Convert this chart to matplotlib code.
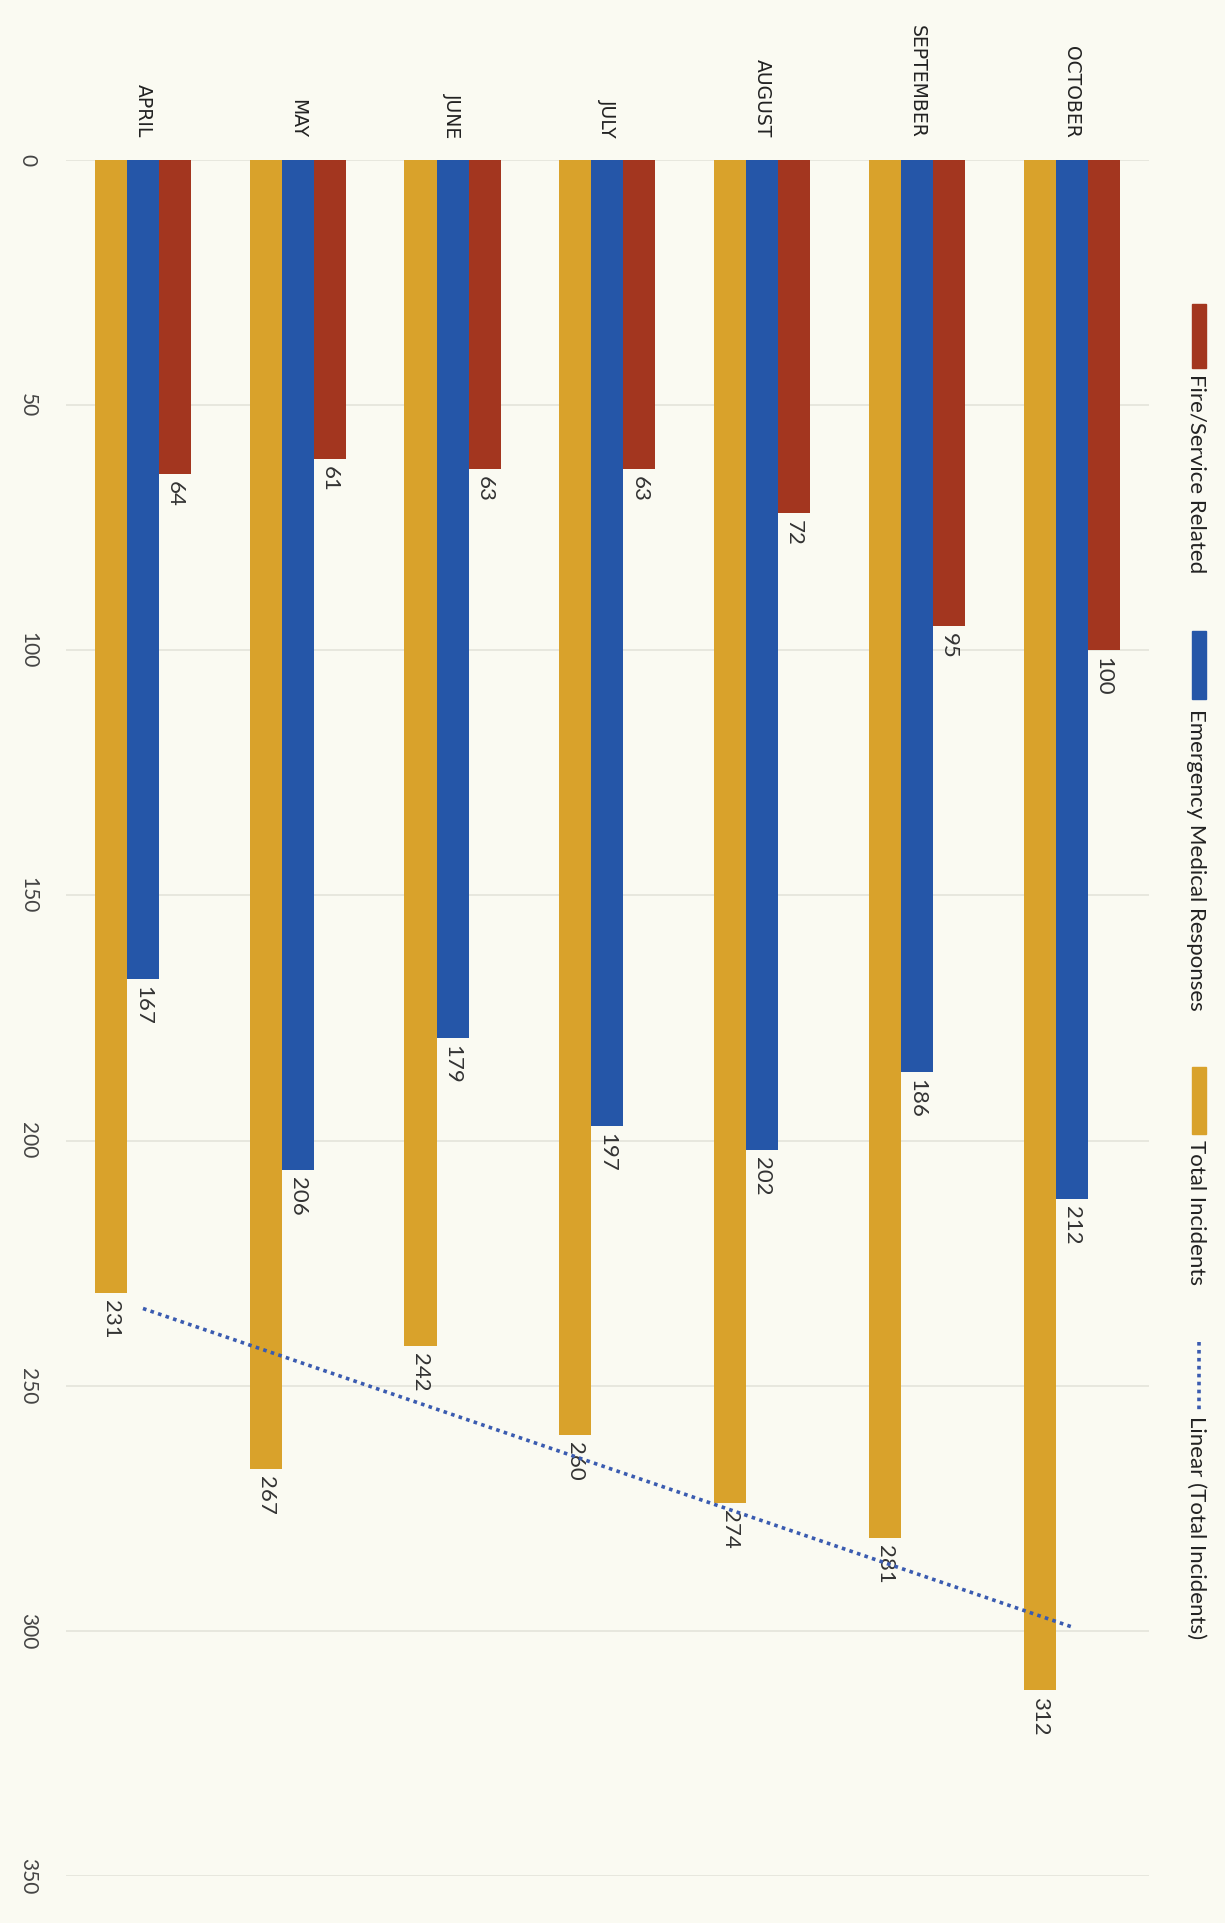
import numpy as np
import matplotlib.pyplot as plt
from matplotlib.patches import Rectangle
from matplotlib.lines import Line2D

months = ['APRIL', 'MAY', 'JUNE', 'JULY', 'AUGUST', 'SEPTEMBER', 'OCTOBER']
fire = [64, 61, 63, 63, 72, 95, 100]
ems = [167, 206, 179, 197, 202, 186, 212]
total = [231, 267, 242, 260, 274, 281, 312]
value_ticks = [0, 50, 100, 150, 200, 250, 300, 350]

legend_names = ['Fire/Service Related', 'Emergency Medical Responses',
                'Total Incidents', 'Linear (Total Incidents)']

RED = '#a3361f'
BLUE = '#2556a8'
GOLD = '#d9a22b'
TREND = '#3a5bb0'
BG = '#fafaf2'

plt.rcParams['font.family'] = ['Lato', 'DejaVu Sans']

W, H = 1225, 1923
fig = plt.figure(figsize=(W / 100, H / 100), dpi=100, facecolor=BG)

# axes placed in pixels of the (rotated) page
left, right = 65.6, 1149.0
top, bottom = 160.0, 1876.0
ax = fig.add_axes([left / W, 1 - bottom / H, (right - left) / W, (bottom - top) / H])
ax.set_facecolor(BG)

x = np.arange(len(months))
w = 0.207

series = [(total, -w, GOLD), (ems, 0, BLUE), (fire, w, RED)]
for vals, off, col in series:
    ax.bar(x + off, vals, w, color=col, zorder=2)
    for xi, v in zip(x + off, vals):
        ax.annotate(str(v), (xi, v), xytext=(0, -5), textcoords='offset points',
                    rotation=-90, ha='center', va='top', fontsize=16,
                    color='#333333')

# linear trend of total incidents
k, c = np.polyfit(x, total, 1)
ax.plot(x, k * x + c, linestyle=(0, (1, 1.2)), color=TREND, lw=2.6, zorder=3)

ax.set_xlim(-0.5, len(months) - 0.5)
ax.set_ylim(350, 0)
ax.set_yticks(value_ticks)
ax.yaxis.grid(True, color='#e4e4da', lw=1.2, zorder=0)
ax.set_axisbelow(True)

ax.xaxis.tick_top()
ax.set_xticks(x)
ax.set_xticklabels(months, family=['DejaVu Sans'])
ax.tick_params(axis='x', length=0, pad=16, labelrotation=-90, labelsize=13.5,
               labelcolor='#222222')
ax.tick_params(axis='y', length=0, pad=20, labelrotation=-90, labelsize=15,
               labelcolor='#444444')
for t in ax.get_yticklabels():
    t.set_va('center')

for s in ax.spines.values():
    s.set_visible(False)

# legend drawn by hand, rotated like the rest of the page
keys = [(304, 368, RED), (631, 699, BLUE), (1067, 1134, GOLD), (1342, 1410, None)]
text_y = [374, 709, 1140, 1416]
for (y0, y1, col), ty, name in zip(keys, text_y, legend_names):
    if col:
        fig.patches.append(Rectangle((1192 / W, 1 - y1 / H), 14 / W, (y1 - y0) / H,
                                     transform=fig.transFigure, color=col))
    else:
        fig.lines.append(Line2D([1199 / W, 1199 / W], [1 - y0 / H, 1 - y1 / H],
                                transform=fig.transFigure, color=TREND, lw=2.6,
                                linestyle=(0, (1, 1.2))))
    fig.text(1196 / W, 1 - ty / H, name, rotation=-90, ha='center', va='top',
             fontsize=16, color='#222222')

fig.savefig('out.png', dpi=100, facecolor=BG)
